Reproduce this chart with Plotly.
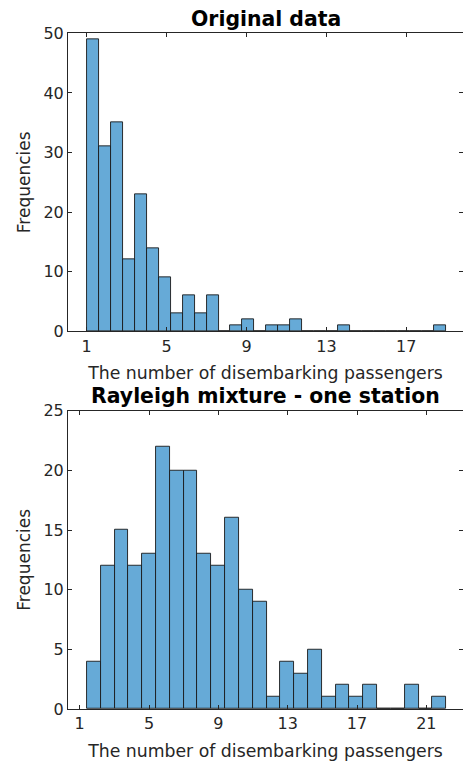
import plotly.graph_objects as go

# ---------------- data ----------------
top_title = "Original data"
top_bin_start = 1.0
top_bin_width = 0.6
top_counts = [49, 31, 35, 12, 23, 14, 9, 3, 6, 3, 6, 0, 1, 2, 0, 1, 1, 2,
              0, 0, 0, 1, 0, 0, 0, 0, 0, 0, 0, 1]
top_xticks = [1, 5, 9, 13, 17]
top_yticks = [0, 10, 20, 30, 40, 50]

bot_title = "Rayleigh mixture - one station"
bot_bin_start = 1.42
bot_bin_width = 0.797
bot_counts = [4, 12, 15, 12, 13, 22, 20, 20, 13, 12, 16, 10, 9, 1, 4, 3, 5,
              1, 2, 1, 2, 0, 0, 2, 0, 1]
bot_xticks = [1, 5, 9, 13, 17, 21]
bot_yticks = [0, 5, 10, 15, 20, 25]

x_label = "The number of disembarking passengers"
y_label = "Frequencies"

# ---------------- figure ----------------
W, H = 463, 764
FONT = "DejaVu Sans"
AX = "#262626"
BAR = "#66AAD7"
EDGE = "#1a1a1a"


def centers(start, width, n):
    return [start + width * (i + 0.5) for i in range(n)]


fig = go.Figure()
fig.add_trace(go.Bar(
    x=centers(top_bin_start, top_bin_width, len(top_counts)),
    y=top_counts, width=top_bin_width,
    marker=dict(color=BAR, line=dict(color=EDGE, width=0.9)),
    xaxis="x", yaxis="y", showlegend=False, hoverinfo="x+y"))
fig.add_trace(go.Bar(
    x=centers(bot_bin_start, bot_bin_width, len(bot_counts)),
    y=bot_counts, width=bot_bin_width,
    marker=dict(color=BAR, line=dict(color=EDGE, width=0.9)),
    xaxis="x2", yaxis="y2", showlegend=False, hoverinfo="x+y"))

axis_common = dict(
    showline=True, linecolor=AX, linewidth=1, mirror="ticks",
    ticks="inside", ticklen=4, tickcolor=AX, tickwidth=1,
    showgrid=False, zeroline=False, automargin=False,
    tickfont=dict(family=FONT, size=16, color=AX),
)
xlab_font = dict(family=FONT, size=17.3, color=AX)
ylab_font = dict(family=FONT, size=17, color=AX)

fig.update_layout(
    width=W, height=H,
    margin=dict(l=68, r=0, t=0, b=0, autoexpand=False),
    paper_bgcolor="white", plot_bgcolor="white",
    bargap=0,
    font=dict(family=FONT, color=AX),
    xaxis=dict(axis_common, domain=[0, 1], anchor="y",
               range=[0.065, 19.84], tickvals=top_xticks,
               title=dict(text=x_label, font=xlab_font, standoff=12)),
    yaxis=dict(axis_common, domain=[1 - 331.3 / H, 1 - 33.3 / H], anchor="x",
               range=[0, 50], tickvals=top_yticks,
               title=dict(text=y_label, font=ylab_font, standoff=8)),
    xaxis2=dict(axis_common, domain=[0, 1], anchor="y2",
                range=[0.327, 23.115], tickvals=bot_xticks,
                title=dict(text=x_label, font=xlab_font, standoff=12)),
    yaxis2=dict(axis_common, domain=[1 - 709 / H, 1 - 410.7 / H], anchor="x2",
                range=[0, 25], tickvals=bot_yticks,
                title=dict(text=y_label, font=ylab_font, standoff=8)),
    annotations=[
        dict(text="<b>%s</b>" % top_title, xref="paper", yref="paper",
             x=0.5, y=1 - 18.5 / H, xanchor="center", yanchor="middle",
             showarrow=False, font=dict(family=FONT, size=20.4, color="black")),
        dict(text="<b>%s</b>" % bot_title, xref="paper", yref="paper",
             x=0.5, y=1 - 396 / H, xanchor="center", yanchor="middle",
             showarrow=False, font=dict(family=FONT, size=20.4, color="black")),
    ],
)

fig.write_html("out.html", config={"displayModeBar": False},
               post_script="document.body.style.margin='0';document.body.style.overflow='hidden';")
